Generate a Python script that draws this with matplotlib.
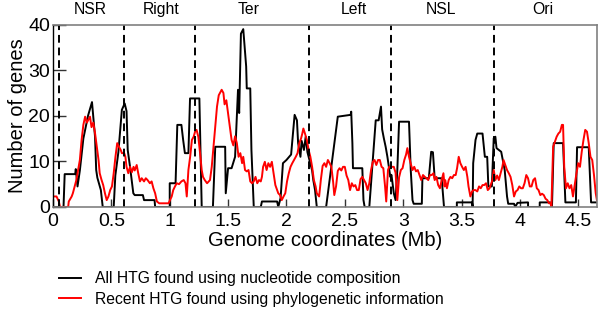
import numpy as np
import matplotlib
matplotlib.use('Agg')
import matplotlib.pyplot as plt
import matplotlib.transforms as mtransforms

plt.rcParams['font.family'] = ['Liberation Sans', 'DejaVu Sans']

# All HTG (nucleotide composition): vertices (Mb, genes)
black_x = [0, 0.09, 0.10, 0.19, 0.195, 0.21, 0.23, 0.26, 0.30, 0.334, 0.36, 0.37, 0.38, 0.41,
           0.426, 0.52, 0.534, 0.56, 0.59, 0.614, 0.63, 0.64, 0.66, 0.688, 0.70, 0.77, 0.78, 0.87,
           0.875, 1.0, 1.0, 1.05, 1.065, 1.10, 1.115, 1.13, 1.16, 1.174, 1.254, 1.274, 1.37, 1.39,
           1.475, 1.48, 1.50, 1.53, 1.56, 1.585, 1.595, 1.61, 1.63, 1.655, 1.66, 1.69, 1.70, 1.72,
           1.78, 1.79, 1.92, 1.93, 1.95, 1.97, 2.0, 2.04, 2.07, 2.09, 2.10, 2.12, 2.13, 2.15, 2.165,
           2.18, 2.22, 2.23, 2.245, 2.26, 2.34, 2.44, 2.55, 2.555, 2.565, 2.57, 2.65, 2.66, 2.67,
           2.71, 2.74, 2.765, 2.79, 2.81, 2.82, 2.835, 2.85, 2.865, 2.89, 2.90, 2.92, 2.935, 2.95,
           2.965, 3.05, 3.065, 3.08, 3.09, 3.16, 3.165, 3.22, 3.24, 3.255, 3.27, 3.33, 3.34, 3.35,
           3.46, 3.46, 3.59, 3.595, 3.60, 3.62, 3.635, 3.68, 3.70, 3.72, 3.73, 3.76, 3.776, 3.79,
           3.80, 3.84, 3.87, 3.89, 3.90, 3.95, 3.96, 3.98, 4.07, 4.07, 4.17, 4.17, 4.26, 4.275,
           4.29, 4.37, 4.39, 4.48, 4.49, 4.59, 4.61, 4.66]
black_y = [0, 0, 7.2, 7.2, 8.3, 4.5, 8, 15, 20, 23, 15.4, 8.1, 6.4, 3.7,
           0, 0, 6.9, 12, 21.3, 22.7, 21, 12.5, 8.8, 3, 2.6, 2.6, 1.5, 1.5,
           0, 0, 5.2, 5.2, 18, 18, 14.7, 11.8, 11.8, 23.8, 23.8, 0, 0, 13.2,
           13.2, 3, 8.5, 8.5, 11, 25.7, 20.6, 38, 39, 30.8, 26, 26, 12.5, 0,
           0, 1.2, 1.2, 0, 2, 9.6, 10.3, 11.5, 20.2, 19, 14, 11, 14.5, 12.5, 15.4,
           12, 8, 5.9, 3.7, 0, 0, 19.8, 20.2, 20.9, 14, 8.5, 8.5, 1.5, 0,
           0, 10.3, 19, 19, 22, 17, 15, 13.2, 11, 6.6, 7, 3, 1.5, 8.1,
           18.7, 18.7, 8.1, 1.5, 0.7, 0.7, 6.3, 6.3, 12.1, 12, 6.3, 6.3, 3, 0,
           0, 1, 1, 0, 9.6, 14.7, 16.1, 16.1, 11, 11, 4.5, 4.5, 15.1, 15.4,
           12.9, 12.1, 8.1, 2.3, 0.7, 0.7, 0, 0.9, 1, 0, 0, 1, 1, 0,
           14, 14, 1, 1, 13.1, 13.1, 1, 1]

# Recent HTG (phylogenetic information)
red_x = [0, 0.03, 0.05, 0.06, 0.13, 0.135, 0.16, 0.17, 0.20, 0.23, 0.245, 0.26, 0.275, 0.29,
         0.317, 0.33, 0.345, 0.36, 0.375, 0.39, 0.40, 0.415, 0.43, 0.445, 0.46, 0.475, 0.49,
         0.505, 0.52, 0.535, 0.55, 0.565, 0.58, 0.59, 0.61, 0.62, 0.63, 0.645, 0.66, 0.675,
         0.69, 0.70, 0.717, 0.73, 0.745, 0.76, 0.78, 0.795, 0.81, 0.83, 0.845, 0.86, 0.875,
         0.89, 0.91, 0.99, 1.017, 1.03, 1.045, 1.06, 1.08, 1.10, 1.12, 1.135, 1.146, 1.16,
         1.175, 1.19, 1.205, 1.217, 1.23, 1.245, 1.26, 1.274, 1.285, 1.30, 1.32, 1.345, 1.36,
         1.375, 1.39, 1.405, 1.42, 1.445, 1.46, 1.47, 1.485, 1.50, 1.515, 1.53, 1.545, 1.56,
         1.575, 1.59, 1.605, 1.62, 1.63, 1.645, 1.66, 1.675, 1.69, 1.705, 1.72, 1.735, 1.75,
         1.765, 1.78, 1.79, 1.80, 1.815, 1.83, 1.845, 1.86, 1.875, 1.89, 1.905, 1.92, 1.93,
         1.945, 1.96, 1.975, 1.99, 2.005, 2.02, 2.035, 2.05, 2.065, 2.08, 2.095, 2.11, 2.125,
         2.135, 2.145, 2.16, 2.175, 2.19, 2.205, 2.22, 2.235, 2.25, 2.26, 2.28, 2.295, 2.31,
         2.325, 2.34, 2.355, 2.37, 2.385, 2.40, 2.41, 2.425, 2.44, 2.455, 2.47, 2.485, 2.50,
         2.515, 2.53, 2.545, 2.56, 2.575, 2.59, 2.605, 2.62, 2.635, 2.65, 2.665, 2.68, 2.695,
         2.71, 2.725, 2.74, 2.755, 2.77, 2.785, 2.80, 2.815, 2.83, 2.845, 2.855, 2.87, 2.88,
         2.90, 2.92, 2.935, 2.95, 2.965, 2.98, 2.995, 3.01, 3.025, 3.036, 3.05, 3.065, 3.08,
         3.095, 3.11, 3.125, 3.14, 3.155, 3.17, 3.185, 3.20, 3.215, 3.23, 3.245, 3.26, 3.27,
         3.285, 3.30, 3.315, 3.33, 3.345, 3.355, 3.36, 3.375, 3.39, 3.405, 3.42, 3.435, 3.45,
         3.462, 3.476, 3.49, 3.505, 3.52, 3.535, 3.55, 3.56, 3.576, 3.59, 3.605, 3.62, 3.635,
         3.65, 3.665, 3.68, 3.695, 3.71, 3.725, 3.74, 3.755, 3.765, 3.776, 3.79, 3.805, 3.82,
         3.835, 3.85, 3.86, 3.875, 3.89, 3.905, 3.92, 3.935, 3.95, 3.965, 3.98, 3.995, 4.01,
         4.025, 4.04, 4.055, 4.07, 4.085, 4.10, 4.115, 4.13, 4.145, 4.16, 4.175, 4.19, 4.205,
         4.22, 4.235, 4.25, 4.265, 4.27, 4.285, 4.30, 4.315, 4.33, 4.345, 4.36, 4.37, 4.38,
         4.395, 4.41, 4.425, 4.44, 4.455, 4.47, 4.485, 4.50, 4.515, 4.53, 4.545, 4.56, 4.575,
         4.59, 4.605, 4.62, 4.635, 4.65, 4.66]
red_y = [2.3, 2.3, 1.2, 0, 0, 1.2, 2.3, 3, 5.9, 10.3, 14.7, 18, 19.8, 18.5,
         19.8, 17.5, 18.5, 16.2, 13.2, 10.3, 7.4, 6, 4.8, 3, 1.5, 2.3, 3.7,
         4.5, 7.4, 11, 14, 13.2, 12.5, 11.8, 11.8, 11, 8.8, 7.4, 8.8, 7.6,
         8.8, 8, 9.2, 7.4, 5.6, 6.3, 5.6, 6.3, 5.9, 5.2, 5.6, 4.1, 3,
         1.2, 0.8, 0.8, 2.3, 3.7, 4.5, 5.2, 5, 5.6, 5.9, 5.2, 2.3, 8.1,
         11, 14.7, 15.4, 16.5, 16.9, 15.4, 11.8, 8.1, 6.6, 5.9, 5.2, 5.9, 8.8,
         13.2, 17.6, 22, 24.5, 25.7, 25, 22.5, 23.4, 20.5, 17.6, 14.7, 13.5, 15.5,
         14, 11, 11.8, 9.6, 11, 8.1, 7.8, 8.1, 5.6, 5.2, 5.6, 6.6, 5.2,
         5.9, 5.6, 6.6, 8.8, 9.9, 8.1, 9.6, 8.8, 9.9, 7.4, 4.8, 3.7, 3,
         2.6, 1.5, 2.3, 3, 5.6, 7.4, 8.8, 9.6, 10.3, 11, 11.8, 14, 15,
         16, 17.2, 16, 14.7, 12.5, 11, 8.8, 5.9, 4.5, 3, 2.3, 6, 9,
         9.6, 8.8, 10.3, 9.6, 8.8, 5.5, 2.6, 4.5, 7.9, 8.5, 8, 8.8, 8.8,
         6.9, 5.9, 3.7, 5.2, 4.5, 4.8, 3.7, 3.7, 6.1, 6.6, 5.9, 5.2, 3.7,
         5.2, 8.1, 9.9, 10.3, 9.2, 10.3, 10.3, 8.8, 8.5, 4.5, 1.2, 8.1, 8.8,
         8.8, 8.8, 7.5, 1.5, 6.5, 8.1, 8.5, 10.3, 11.5, 12.9, 11, 9.5, 8.1,
         8.8, 7.8, 8.1, 7, 5.9, 7, 6.6, 6.3, 5.9, 7, 7, 7.4, 5.9,
         6.6, 4.8, 4.1, 5.9, 7.4, 4.5, 5.9, 4.1, 5.9, 6.6, 6.3, 7, 7,
         8.5, 11, 9.6, 8.8, 8.1, 8.8, 6.6, 4.5, 2.3, 3.4, 3.7, 3.7, 3.4,
         4.5, 4.1, 4.8, 4.8, 5.2, 3.7, 4.1, 5.2, 5.9, 8.1, 5.9, 6.9, 5.9,
         7.4, 8.8, 10.3, 9.2, 8.1, 7.4, 6.6, 4.8, 2.3, 3.4, 3.7, 4.5, 4.1,
         4.1, 5.2, 7, 6.3, 4.5, 4.5, 5.9, 6.3, 4.1, 3.7, 2.6, 2.9, 2.6,
         1.8, 1.5, 0.8, 0.8, 0, 13.2, 14.3, 15.4, 16.1, 16.5, 18, 18, 8.8,
         4.1, 5.2, 4.1, 4.8, 2.3, 4.8, 7.4, 9.6, 8.8, 12.1, 14.7, 16.9, 16.5,
         14, 11, 10.3, 7, 3, 1.5]

# Region boundaries (Mb) and macrodomain names
boundaries = [0.05, 0.61, 1.22, 2.19, 2.90, 3.78]
region_names = ['NSR', 'Right', 'Ter', 'Left', 'NSL', 'Ori']
region_centres = [0.32, 0.93, 1.675, 2.575, 3.325, 4.195]

genome_length = 4.66

fig = plt.figure(figsize=(5.99, 3.15), dpi=100)
ax = fig.add_axes([0.0885, 0.343, 0.908, 0.579])

line_black, = ax.plot(black_x, black_y, color='black', lw=1.4,
                      label='All HTG found using nucleotide composition')
line_red, = ax.plot(red_x, red_y, color='red', lw=1.4,
                    label='Recent HTG found using phylogenetic information')

for b in boundaries:
    ax.axvline(b, color='black', linestyle=(0, (4, 2.5)), lw=1.4)

# Region names above the plot
trans = mtransforms.blended_transform_factory(ax.transData, ax.transAxes)
for name, xc in zip(region_names, region_centres):
    ax.text(xc, 1.085, name, transform=trans, ha='center', va='center', fontsize=11.3)

ax.set_xlim(0, genome_length)
ax.set_ylim(0, 40)
ax.set_xticks([0, 0.5, 1, 1.5, 2, 2.5, 3, 3.5, 4, 4.5])
ax.set_xticklabels(['0', '0.5', '1', '1.5', '2', '2.5', '3', '3.5', '4', '4.5'])
ax.set_yticks([0, 10, 20, 30, 40])
ax.tick_params(direction='in', length=6, width=1, labelsize=14, color='#333333')
ax.tick_params(axis='x', pad=4)
ax.tick_params(axis='y', length=9, pad=2)

for side in ['top', 'right', 'bottom']:
    ax.spines[side].set_color('#808080')
    ax.spines[side].set_linewidth(1.2)
ax.spines['left'].set_color('black')
ax.spines['left'].set_linewidth(1)

ax.set_xlabel('Genome coordinates (Mb)', fontsize=14.5, labelpad=1)
ax.set_ylabel('Number of genes', fontsize=14.5, labelpad=1)

fig.legend(handles=[line_black, line_red], loc='center left', bbox_to_anchor=(0.098, 0.083),
           frameon=False, fontsize=11.3, handlelength=1.45, handletextpad=0.85,
           labelspacing=0.34, borderpad=0, borderaxespad=0)

plt.savefig('out.png', dpi=100)
